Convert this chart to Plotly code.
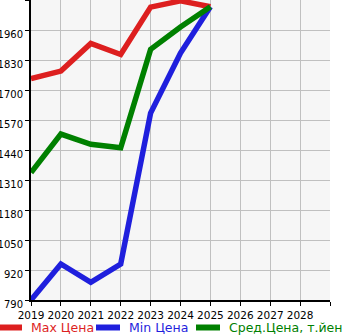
import plotly.graph_objects as go

years = [2019, 2020, 2021, 2022, 2023, 2024, 2025]
max_price = [1749, 1782, 1902, 1854, 2059, 2086, 2061]
min_price = [790, 946, 867, 946, 1600, 1860, 2061]
avg_price = [1342, 1509, 1465, 1450, 1876, 1973, 2061]

series_names = ["Max Цена", "Min Цена", "Сред.Цена, т.йен"]

x_ticks = [2019, 2020, 2021, 2022, 2023, 2024, 2025, 2026, 2027, 2028, 2029]
x_labels = ["2019", "2020", "2021", "2022", "2023", "2024", "2025", "2026", "2027", "2028", ""]
y_ticks = [790, 920, 1050, 1180, 1310, 1440, 1570, 1700, 1830, 1960, 2090]
y_labels = ["790", "920", "1050", "1180", "1310", "1440", "1570", "1700", "1830", "1960", ""]

RED = "#dd1f1f"
BLUE = "#1f1fdd"
GREEN = "#008000"
colors = [RED, BLUE, GREEN]

W, H = 345, 335
ML, MR, MT, MB = 31, 15, 0, 35
PW, PH = W - ML - MR, H - MT - MB

def px_to_paper_x(px):
    return (px - ML) / PW

def px_to_paper_y(py):
    return 1 - (py - MT) / PH

fig = go.Figure()
for name, vals, col in zip(series_names, [max_price, min_price, avg_price], colors):
    fig.add_trace(go.Scatter(
        x=years, y=vals, mode="lines", name=name,
        line=dict(color=col, width=5.5),
    ))

FONT = "DejaVu Sans"

# manual legend (swatch + coloured label), laid out like the reference
legend_x = [0, 98, 198]
legend_y = 327.5
shapes = []
annotations = []
for name, col, lx in zip(series_names, colors, legend_x):
    shapes.append(dict(
        type="line", xref="paper", yref="paper",
        x0=px_to_paper_x(lx - 2), x1=px_to_paper_x(lx + 22),
        y0=px_to_paper_y(legend_y), y1=px_to_paper_y(legend_y),
        line=dict(color=col, width=6),
    ))
    annotations.append(dict(
        xref="paper", yref="paper",
        x=px_to_paper_x(lx + 29), y=px_to_paper_y(legend_y),
        xanchor="left", yanchor="middle", showarrow=False,
        text=name, font=dict(family=FONT, size=12.5, color=col),
    ))

fig.update_layout(
    width=W, height=H,
    margin=dict(l=ML, r=MR, t=MT, b=MB),
    paper_bgcolor="white",
    plot_bgcolor="#f6f6f6",
    font=dict(family=FONT, size=10.5, color="black"),
    showlegend=False,
    shapes=shapes,
    annotations=annotations,
    xaxis=dict(
        range=[2019, 2029],
        tickmode="array", tickvals=x_ticks, ticktext=x_labels,
        tickangle=0, automargin=False,
        showgrid=True, gridcolor="#c0c0c0", gridwidth=1,
        showline=True, linecolor="black", linewidth=2,
        ticks="outside", ticklen=4, tickcolor="black", tickwidth=1,
        zeroline=False,
        tickfont=dict(family=FONT, size=10.5),
    ),
    yaxis=dict(
        range=[790, 2090],
        tickmode="array", tickvals=y_ticks, ticktext=y_labels,
        automargin=False,
        showgrid=True, gridcolor="#c0c0c0", gridwidth=1,
        showline=True, linecolor="black", linewidth=2,
        ticks="outside", ticklen=4, tickcolor="black", tickwidth=1,
        zeroline=False,
        ticklabelshift=4, ticklabelstandoff=0,
        tickfont=dict(family=FONT, size=10),
    ),
)

fig.write_html("out.html")
